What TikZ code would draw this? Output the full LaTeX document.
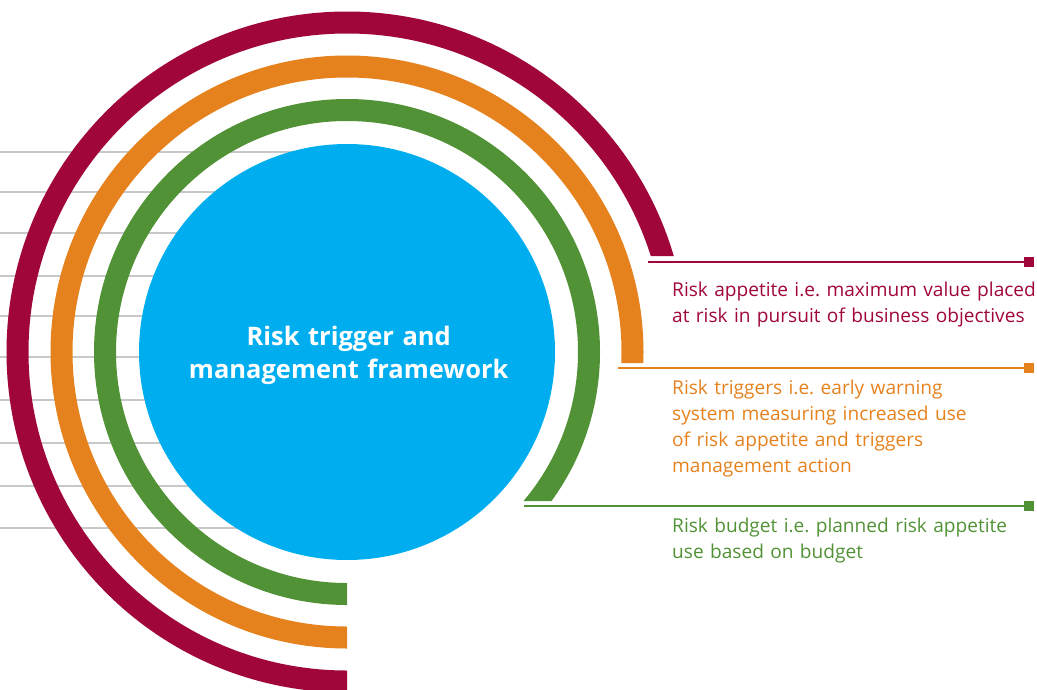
\documentclass[tikz,border=0pt]{standalone}
\usepackage{fontspec}
\setmainfont{Open Sans}
\frenchspacing
\definecolor{crimson}{RGB}{160,6,58}
\definecolor{amber}{RGB}{230,130,30}
\definecolor{leaf}{RGB}{82,146,54}
\definecolor{sky}{RGB}{0,174,239}
\definecolor{rulegray}{RGB}{200,200,200}
\begin{document}
\begin{tikzpicture}[x=1pt,y=-1pt,
  guide/.style={draw=rulegray, line width=2},
  band/.style={line width=22},
  leader/.style={line width=2},
  marker/.style={rectangle, minimum size=10, inner sep=0},
  caption/.style={anchor=base west, inner sep=0, text width=380, align=left,
    font=\fontsize{19.1}{26}\selectfont},
  title/.style={anchor=base, inner sep=0, text width=360, align=center, text=white,
    font=\fontsize{25.5}{32.6}\selectfont\bfseries}]
\useasboundingbox (0,0) rectangle (1037,689);
\clip (0,0) rectangle (1037,689);

% horizontal guide rules behind the rings
\foreach \yy in {152,192,233,276,316,357,400,443,486,528}
  \draw[guide] (0,\yy) -- (347,\yy);

% three concentric bands, each cut off horizontally on the right
\begin{scope}
  \clip (-5,-5) -- (1045,-5) -- (1045,256) -- (347,256) -- (347,700) -- (-5,700) -- cycle;
  \draw[band, crimson] (347,352) circle[radius=329.5pt];
\end{scope}
\begin{scope}
  \clip (-5,-5) -- (1045,-5) -- (1045,363) -- (347,363) -- (347,700) -- (-5,700) -- cycle;
  \draw[band, amber] (347,352) circle[radius=285.5pt];
\end{scope}
\begin{scope}
  \clip (-5,-5) -- (1045,-5) -- (1045,501) -- (347,501) -- (347,700) -- (-5,700) -- cycle;
  \draw[band, leaf] (347,352) circle[radius=242pt];
\end{scope}

% central disc
\node[circle, fill=sky, minimum size=416, inner sep=0] (core) at (347,352) {};
\node[title] (heading) at (348.7,345.7) {Risk trigger and\\management framework};

% leaders with end markers
\coordinate (e1) at (648,261.7);
\coordinate (e2) at (618,367.6);
\coordinate (e3) at (524,505.6);
\node[marker, fill=crimson] (m1) at (1029,261.7) {};
\node[marker, fill=amber] (m2) at (1029,367.6) {};
\node[marker, fill=leaf] (m3) at (1029,505.6) {};
\draw[leader, crimson] (e1) -- (m1.center);
\draw[leader, amber] (e2) -- (m2.center);
\draw[leader, leaf] (e3) -- (m3.center);

% captions
\node[caption, text=crimson] (t1) at (672,296.7)
  {Risk appetite i.e. maximum value placed\\at risk in pursuit of business objectives};
\node[caption, text=amber] (t2) at (672,394.3)
  {Risk triggers i.e. early warning\\system measuring increased use\\of risk appetite and triggers\\management action};
\node[caption, text=leaf] (t3) at (672,532.3)
  {Risk budget i.e. planned risk appetite\\use based on budget};
\end{tikzpicture}
\end{document}
